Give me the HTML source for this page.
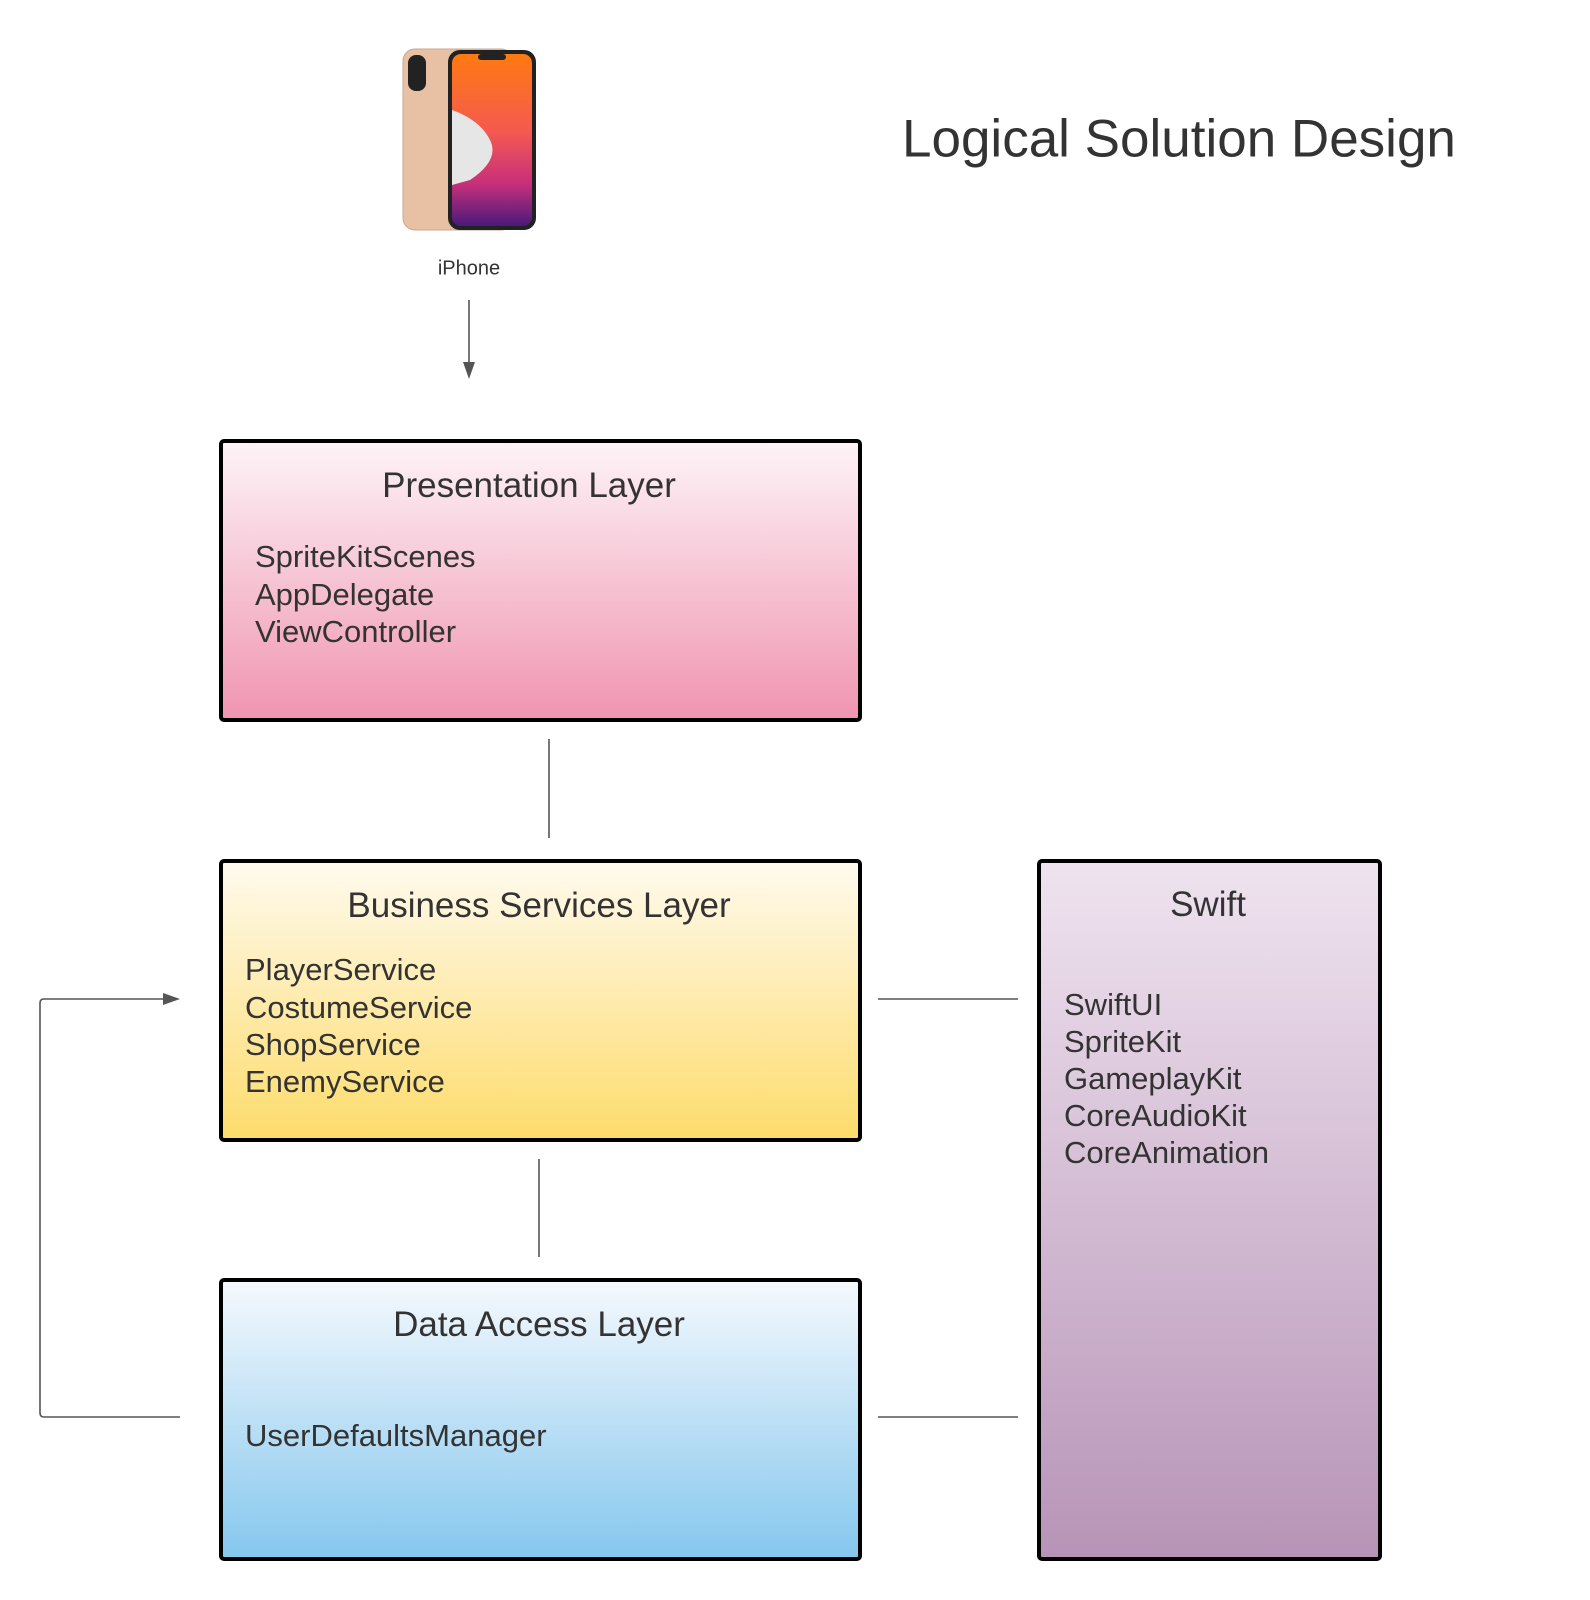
<!DOCTYPE html>
<html><head><meta charset="utf-8"><style>
body{margin:0;width:1590px;height:1600px;background:#fff;position:relative;overflow:hidden;font-family:"Liberation Sans",sans-serif;color:#333}
.box{position:absolute;border:4px solid #000;border-radius:5px;box-sizing:border-box}
.t{position:absolute;white-space:nowrap;transform:translateY(-50%)}
.c{transform:translate(-50%,-50%)}
.h{font-size:35px}.i{font-size:31px}
</style></head><body>
<div class="box" style="left:219px;top:439px;width:643px;height:283px;background:linear-gradient(#fdf3f7,#f095b1)"></div>
<div class="box" style="left:219px;top:859px;width:643px;height:283px;background:linear-gradient(#fffaee,#fddc6c)"></div>
<div class="box" style="left:219px;top:1278px;width:643px;height:283px;background:linear-gradient(#f5f9fd,#85c7ee)"></div>
<div class="box" style="left:1037px;top:859px;width:345px;height:702px;background:linear-gradient(#efe3ef,#b794b7)"></div>

<svg style="position:absolute;left:0;top:0" width="1590" height="1600">
<g stroke="#555" stroke-width="1.6" fill="none">
<line x1="469" y1="300" x2="469" y2="366"/>
<line x1="549" y1="739" x2="549" y2="838"/>
<line x1="539" y1="1159" x2="539" y2="1257"/>
<line x1="878" y1="999" x2="1018" y2="999"/>
<line x1="878" y1="1417" x2="1018" y2="1417"/>
<path d="M180 1417 H44 Q40 1417 40 1413 V1003 Q40 999 44 999 H166"/>
</g>
<polygon points="463,362 475,362 469,379" fill="#555"/>
<polygon points="163,993 163,1005 180,999" fill="#555"/>
<defs><linearGradient id="sc" x1="0" y1="0" x2="0" y2="1"><stop offset="0" stop-color="#ff7a10"/><stop offset="0.45" stop-color="#f45a50"/><stop offset="0.75" stop-color="#c8307a"/><stop offset="1" stop-color="#4a1a7a"/></linearGradient></defs>
<rect x="403" y="49" width="110" height="181" rx="12" fill="#e8c0a4" stroke="#c9a88f"/>
<rect x="408" y="55" width="18" height="36" rx="8" fill="#222"/>
<rect x="448" y="50" width="88" height="180" rx="12" fill="#222"/>
<rect x="452" y="54" width="80" height="172" rx="9" fill="url(#sc)"/>
<path d="M452 110 Q480 120 490 140 Q500 160 470 180 L452 185 Z" fill="#e6e6e6"/>
<rect x="478" y="54" width="28" height="6" rx="3" fill="#222"/>
</svg>

<div class="t c" style="left:469px;top:269px;font-size:20px">iPhone</div>
<div class="t" style="left:902px;top:139px;font-size:53px">Logical Solution Design</div>

<div class="t c h" style="left:529px;top:486px">Presentation Layer</div>
<div class="t i" style="left:255px;top:557px">SpriteKitScenes</div>
<div class="t i" style="left:255px;top:595px">AppDelegate</div>
<div class="t i" style="left:255px;top:632px">ViewController</div>

<div class="t c h" style="left:539px;top:906px">Business Services Layer</div>
<div class="t i" style="left:245px;top:970px">PlayerService</div>
<div class="t i" style="left:245px;top:1008px">CostumeService</div>
<div class="t i" style="left:245px;top:1045px">ShopService</div>
<div class="t i" style="left:245px;top:1082px">EnemyService</div>

<div class="t c h" style="left:539px;top:1325px">Data Access Layer</div>
<div class="t i" style="left:245px;top:1436px">UserDefaultsManager</div>

<div class="t c h" style="left:1208px;top:905px">Swift</div>
<div class="t i" style="left:1064px;top:1005px">SwiftUI</div>
<div class="t i" style="left:1064px;top:1042px">SpriteKit</div>
<div class="t i" style="left:1064px;top:1079px">GameplayKit</div>
<div class="t i" style="left:1064px;top:1116px">CoreAudioKit</div>
<div class="t i" style="left:1064px;top:1153px">CoreAnimation</div>
</body></html>
